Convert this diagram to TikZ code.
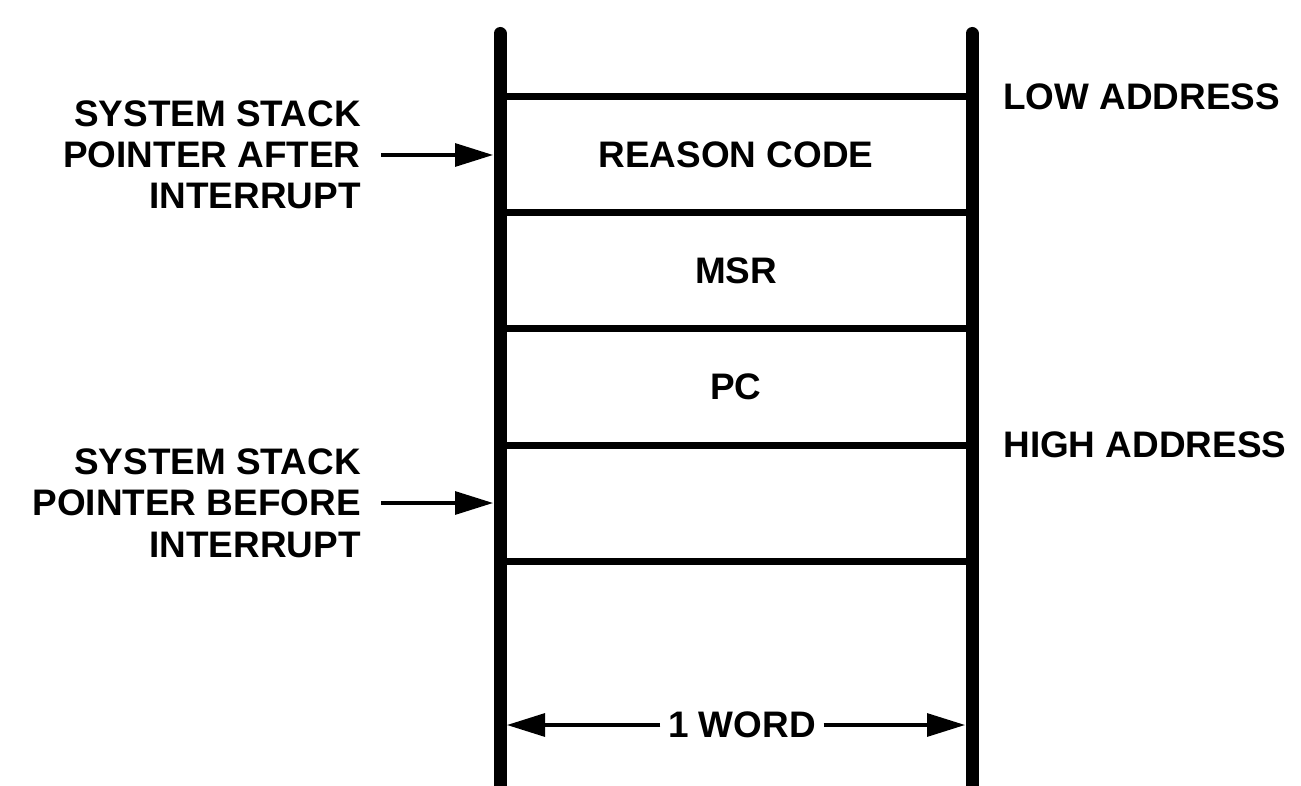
\documentclass[tikz,border=0pt]{standalone}
\usepackage{fontspec}
\setmainfont{Liberation Sans}
\usetikzlibrary{arrows.meta,positioning}

\begin{document}
\begin{tikzpicture}[
      font=\fontsize{21}{23.5}\selectfont\bfseries,
      cell/.style={rectangle, minimum width=9.44cm, minimum height=2.32cm,
          inner sep=0pt, outer sep=0pt},
      rail/.style={line width=0.26cm, line cap=round},
      sep/.style={line width=0.14cm},
      ptr/.style={-{Triangle[length=0.76cm, width=0.46cm]}, line width=1.8pt,
          shorten <=0.4cm, shorten >=0.14cm},
      lbl/.style={align=right, inner sep=0pt},
      addr/.style={inner sep=0pt}
  ]
  \useasboundingbox (0,0) rectangle (26.02,15.7);
  \node[cell] (reason) at (14.72,12.6) {REASON CODE};
  \node[cell, below=0cm of reason] (msr) {MSR};
  \node[cell, below=0cm of msr] (pc) {PC};
  \node[cell, below=0cm of pc] (free) {};
  \coordinate (ltop) at (10,15.03);
  \coordinate (lbot) at (10,-0.3);
  \coordinate (rtop) at (19.44,15.03);
  \coordinate (rbot) at (19.44,-0.3);
  \draw[rail] (ltop) -- (lbot);
  \draw[rail] (rtop) -- (rbot);
  \foreach \c in {reason,msr,pc,free}
    \draw[sep] (\c.north west) -- (\c.north east);
  \draw[sep] (free.south west) -- (free.south east);
  \node[lbl, left=2.78cm of reason.west] (after) {SYSTEM STACK\\POINTER AFTER\\INTERRUPT};
  \node[lbl, left=2.78cm of free.west] (before) {SYSTEM STACK\\POINTER BEFORE\\INTERRUPT};
  \draw[ptr] (after.east) -- (reason.west);
  \draw[ptr] (before.east) -- (free.west);
  \node[addr, right=0.62cm of reason.north east] (low) {LOW ADDRESS};
  \node[addr, right=0.62cm of pc.south east] (high) {HIGH ADDRESS};
  \node[inner sep=0.15cm] (word) at (14.84,1.2) {1 WORD};
  \draw[ptr, shorten <=0pt] (word.west) -- (word.west -| reason.west);
  \draw[ptr, shorten <=0pt] (word.east) -- (word.east -| reason.east);
\end{tikzpicture}
\end{document}
